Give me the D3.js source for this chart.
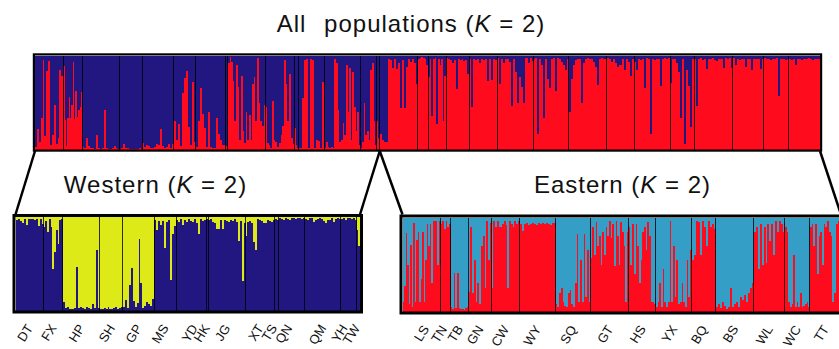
<!DOCTYPE html>
<html>
<head>
<meta charset="utf-8">
<script src="https://cdnjs.cloudflare.com/ajax/libs/d3/7.8.5/d3.min.js"></script>
<style>
body { margin: 0; background: #fff; }
text { font-family: "Liberation Sans", Arial, Helvetica, sans-serif; fill: #111; }
</style>
</head>
<body>
<svg class="chart"></svg>
<script>
// populations, in plot order
var westPops  = ["DT","FX","HP","SH","GP","MS","YD","HK","JG","XT","TS","QN","QM","YH","TW"];
var westSizes = [28,19,37,23,31,22,30,2,37,29,4,26,36,16,3];
var eastPops  = ["LS","TN","TB","GN","CW","WY","SQ","GT","HS","YX","BQ","BS","WL","WC","TT"];
var eastSizes = [38,10,18,23,28,36,35,38,27,36,24,38,31,25,31];

// all populations K=2 : red membership, west part
var topWestRed = [
  [0.03,0.22,0.08,0.33,0.95,0.14,0.83,0.94,0.05,0.15,0.47,0.06,0.12,0.85,0.78],
  [0.89,0.31,0.04,0.33,0.56,0.34,0.47,0.93,0.32,0.62,0.35,0.42,0.45,0.61],
  [0.03,0.02,0.12,0.04,0.02,0.02,0.01,0.15,0.02,0.01,0.02,0.42,0.02,0.01,0.01,0.02,0.04,0.02,0.01],
  [0.01,0.02,0.06,0.02,0.02,0.01,0.01,0.01,0.01,0.01,0.02,0.01],
  [0.07,0.03,0.05,0.04,0.02,0.02,0.03,0.06,0.05,0.22,0.04,0.02,0.03,0.06,0.02,0.06],
  [0.3,0.1,0.27,0.04,0.6,0.76,0.84,0.24,0.05,0.72,0.08],
  [0.03,0.3,0.65,0.38,0.23,0.03,0.4,0.03,0.02,0.02,0.33,0.17,0.1,0.05,0.05],
  [0.04],
  [0.92,0.98,0.93,0.73,0.3,0.9,0.67,0.1,0.78,0.2,0.07,0.4,0.1,0.37,0.1,0.7,0.77,0.3,0.97,0.5,0.3,0.25,0.47],
  [0.45,0.07,0.05,0.02,0.52,0.1,0.08,0.03,0.07,0.15,0.25,0.95,0.7,0.3,0.8,0.12,0.06],
  [0.23,0.23,0.05,0.02],
  [0.02,0.02,0.55,0.95,0.96,0.02,0.96,0.95,0.02,0.1,0.09,0.02,0.72],
  [0.02,0.08,0.03,0.02,0.03,0.02,0.96,0.92,0.42,0.08,0.1,0.28,0.15,0.9,0.4,0.87,0.1,0.82,0.45,0.2,0.4,0.05],
  [0.02,0.08,0.5,0.15,0.2,0.1,0.85,0.92,0.3,0.05],
  [0.3,0.12,0.05]
];
// all populations K=2 : red membership, east part
var topEastRed = [
  [0.17,0.1,0.08,0.08,0.96,0.95,0.87,0.96,0.86,0.92,0.44,0.95,0.44,0.88,0.96,0.93,0.96,0.92,0.7],
  [0.96,0.97,0.98,0.97,0.96,0.9],
  [0.77,0.96,0.36,0.96,0.97,0.27,0.96,0.9,0.96,0.3,0.78],
  [0.97,0.96,0.95,0.92,0.95,0.64,0.96,0.95,0.96,0.94,0.95,0.8],
  [0.96,0.45,0.96,0.95,0.96,0.92,0.96,0.95,0.96,0.73,0.96,0.74,0.96,0.95],
  [0.97,0.7,0.96,0.92,0.96,0.96,0.93,0.46,0.96,0.82,0.5,0.77,0.66,0.5,0.97,0.92,0.97,0.94],
  [0.96,0.97,0.17,0.96,0.9,0.33,0.96,0.75,0.65,0.96,0.97,0.62,0.97,0.96,0.93,0.9,0.85,0.96],
  [0.4,0.75,0.9,0.95,0.96,0.96,0.5,0.92,0.96,0.97,0.96,0.96,0.93,0.88,0.69,0.96,0.97,0.96,0.96],
  [0.97,0.96,0.93,0.96,0.92,0.88,0.9,0.96,0.85,0.96,0.93,0.78,0.96],
  [0.93,0.85,0.96,0.95,0.96,0.65,0.97,0.96,0.17,0.96,0.95,0.96,0.96,0.68,0.96,0.97,0.96,0.97],
  [0.71,0.96,0.96,0.92,0.82,0.33,0.96,0.06,0.85,0.68,0.24,0.96],
  [0.96,0.46,0.96,0.97,0.95,0.96,0.86,0.96,0.96,0.97,0.95,0.94,0.96,0.96,0.87,0.97,0.96,0.97,0.87],
  [0.97,0.9,0.96,0.95,0.96,0.96,0.88,0.96,0.96,0.85,0.96,0.96,0.96,0.86,0.96],
  [0.97,0.96,0.96,0.95,0.96,0.96,0.97,0.57,0.96,0.96,0.95,0.96],
  [0.96,0.95,0.96,0.9,0.96,0.96,0.95,0.96,0.96,0.97,0.96,0.95,0.96,0.96,0.96]
];
// western K=2 : yellow membership (drawn from the top)
var westYellow = [
  [0.03,0.02,0.04,0.06,0.02,0.09,0.02,0.02,0.02,0.03,0.02,0.1,0.02,0.07],
  [0.11,0.04,0.16,0.02,0.11,0.56,0.37,0.14,0.29,0.03,0.02],
  [0.91,0.97,0.96,0.98,0.98,0.98,0.97,0.53,0.97,0.96,0.97,0.98,0.96,0.97,0.98,0.93,0.97,0.35,0.97],
  [0.98,0.98,0.97,0.98,0.96,0.98,0.98,0.97,0.96,0.98,0.97,0.96],
  [0.96,0.89,0.97,0.73,0.55,0.9,0.96,0.92,0.23,0.71,0.97,0.95,0.91,0.93,0.95,0.88],
  [0.03,0.14,0.04,0.09,0.04,0.33,0.05,0.03,0.67,0.18,0.1],
  [0.03,0.05,0.02,0.09,0.03,0.05,0.02,0.04,0.05,0.02,0.06,0.18,0.02,0.04,0.03],
  [0.02],
  [0.03,0.02,0.05,0.06,0.13,0.13,0.03,0.13,0.03,0.04,0.05,0.03,0.04,0.02,0.05,0.26,0.04,0.68,0.06],
  [0.2,0.05,0.04,0.06,0.27,0.35,0.02,0.03,0.04,0.06,0.06,0.03,0.04,0.05,0.03],
  [0.02,0.03],
  [0.01,0.02,0.03,0.01,0.02,0.03,0.01,0.01,0.02,0.01,0.01,0.02,0.01],
  [0.02,0.03,0.01,0.01,0.05,0.03,0.02,0.01,0.02,0.04,0.06,0.03,0.03,0.01,0.05,0.02,0.01,0.02],
  [0.02,0.01,0.03,0.01,0.01,0.02,0.01,0.03],
  [0.14,0.31,0.31]
];
// eastern K=2 : red membership
var eastRed = [
  [0.1,0.27,0.83,0.5,0.08,0.71,0.05,0.94,0.1,0.76,0.85,0.1,0.35,0.85,0.1,0.55,0.93,0.7,0.93,0.3,0.96,0.96,0.96,0.5,0.96],
  [0.93,0.96,0.88,0.96,0.9,0.93],
  [0.05,0.03,0.41,0.04,0.41,0.04,0.03,0.03,0.02,0.04,0.05],
  [0.21,0.9,0.2,0.55,0.1,0.3,0.08,0.7,0.8,0.25,0.96,0.55,0.94],
  [0.25,0.96,0.9,0.96,0.9,0.9,0.93,0.96,0.92,0.25,0.96,0.93,0.9,0.96,0.93,0.96],
  [0.93,0.86,0.93,0.94,0.92,0.93,0.94,0.93,0.92,0.94,0.93,0.94,0.93,0.94,0.93,0.92,0.94,0.94],
  [0.08,0.05,0.2,0.25,0.1,0.06,0.05,0.2,0.23,0.08,0.05,0.3,0.82,0.1,0.55,0.1,0.82,0.15,0.65,0.1],
  [0.57,0.9,0.6,0.95,0.7,0.8,0.5,0.85,0.6,0.9,0.8,0.96,0.78,0.93,0.48,0.96,0.8,0.5,0.95,0.85,0.7,0.1,0.85],
  [0.9,0.5,0.93,0.4,0.93,0.7,0.3,0.55,0.85,0.9,0.65,0.95,0.8,0.1,0.1,0.08],
  [0.05,0.1,0.3,0.05,0.45,0.1,0.05,0.1,0.96,0.1,0.7,0.15,0.55,0.08,0.1,0.3,0.1,0.05,0.55,0.15,0.65],
  [0.55,0.6,0.96,0.95,0.6,0.96,0.9,0.7,0.96,0.9,0.93,0.88],
  [0.05,0.08,0.04,0.1,0.06,0.03,0.05,0.25,0.05,0.08,0.1,0.05,0.15,0.12,0.18,0.1,0.2,0.25,0.3],
  [0.85,0.9,0.45,0.93,0.5,0.9,0.52,0.93,0.75,0.93,0.6,0.96,0.85,0.96,0.93,0.85],
  [0.9,0.85,0.1,0.05,0.08,0.6,0.05,0.1,0.05,0.2,0.05,0.06,0.08,0.1,0.05],
  [0.9,0.93,0.7,0.93,0.4,0.8,0.85,0.5,0.93,0.9,0.96,0.85,0.8,0.1,0.2,0.93,0.96,0.9]
];

var NAVY = "#221680", RED = "#fe0c1e", YELLOW = "#dee918", TEAL = "#349ec6";

var svg = d3.select(".chart").attr("width", 839).attr("height", 349);

function drawPanel(sizes, values, o) {
  var total = d3.sum(sizes);
  var x = d3.scaleLinear().domain([0, total]).range([o.x0, o.x1]);
  var y = d3.scaleLinear().domain([0, 1]).range([o.y1, o.y0]);
  var g = svg.append("g");

  // individuals
  var bars = [], cum = 0, edges = [];
  sizes.forEach(function(n, i) {
    var v = values[i], m = v.length;
    v.forEach(function(q, j) {
      bars.push({a: cum + j * n / m, b: cum + (j + 1) * n / m, q: q});
    });
    cum += n;
    edges.push(cum);
  });

  g.append("rect")
    .attr("x", o.x0).attr("y", o.y0)
    .attr("width", o.x1 - o.x0).attr("height", o.y1 - o.y0)
    .attr("fill", o.bg).attr("shape-rendering", "crispEdges");

  g.selectAll("rect.bar").data(bars).enter().append("rect")
    .attr("class", "bar")
    .attr("x", function(d) { return x(d.a); })
    .attr("width", function(d) { return x(d.b) - x(d.a); })
    .attr("y", function(d) { return o.fromTop ? y(1) : y(d.q); })
    .attr("height", function(d) { return o.fromTop ? y(1 - d.q) - y(1) : y(0) - y(d.q); })
    .attr("fill", o.fg)
    .attr("shape-rendering", "crispEdges");

  g.selectAll("line.div").data(edges.slice(0, -1)).enter().append("line")
    .attr("class", "div")
    .attr("x1", function(d) { return x(d); }).attr("x2", function(d) { return x(d); })
    .attr("y1", o.y0).attr("y2", o.y1)
    .attr("stroke", "#000").attr("stroke-opacity", 0.8).attr("stroke-width", 1)
    .attr("shape-rendering", "crispEdges");

  g.append("rect")
    .attr("x", o.x0 - o.bw / 2).attr("y", o.y0 - o.bw / 2)
    .attr("width", o.x1 - o.x0 + o.bw).attr("height", o.y1 - o.y0 + o.bw)
    .attr("fill", "none").attr("stroke", "#000").attr("stroke-width", o.bw);

  return {x: x, edges: edges};
}

function drawLabels(names, sizes, x, nudge, ly) {
  var cum = 0;
  names.forEach(function(nm, i) {
    var c = cum + sizes[i] / 2;
    cum += sizes[i];
    var ax = x(c) + 4 + (nudge[nm] || 0);
    svg.append("text")
      .attr("transform", "translate(" + ax + "," + ly + ") rotate(-58)")
      .attr("text-anchor", "end")
      .style("font-size", "13px")
      .text(nm);
  });
}

function kTitle(cx, cy) {
  return svg.append("text")
    .attr("x", cx).attr("y", cy)
    .attr("text-anchor", "middle")
    .style("font-size", "24px")
    .style("letter-spacing", "1px");
}

// top panel: all populations
var allPanel = drawPanel(westSizes.concat(eastSizes), topWestRed.concat(topEastRed),
  {x0: 35, x1: 820, y0: 55.5, y1: 149.5, bw: 2.2, bg: NAVY, fg: RED, fromTop: false});

// western
var westPanel = drawPanel(westSizes, westYellow,
  {x0: 15.5, x1: 360, y0: 217, y1: 310.5, bw: 3, bg: NAVY, fg: YELLOW, fromTop: true});

// eastern
var eastPanel = drawPanel(eastSizes, eastRed,
  {x0: 402.5, x1: 841, y0: 217.5, y1: 311.5, bw: 3, bg: TEAL, fg: RED, fromTop: false});

// zoom-out lines joining the panels
var nW = d3.sum(westSizes), nE = d3.sum(eastSizes);
var links = [
  [allPanel.x(0), westPanel.x(0)],
  [allPanel.x(nW), westPanel.x(nW)],
  [allPanel.x(nW), eastPanel.x(0)],
  [allPanel.x(nW + nE), eastPanel.x(nE)]
];
svg.selectAll("line.link").data(links).enter().append("line")
  .attr("x1", function(d) { return d[0]; }).attr("y1", 151)
  .attr("x2", function(d) { return d[1]; }).attr("y2", 214.5)
  .attr("stroke", "#000").attr("stroke-width", 2.5);

// titles
var t1 = kTitle(411, 32);
t1.append("tspan").text("All");
t1.append("tspan").attr("dx", 10).text(" populations (");
t1.append("tspan").style("font-style", "italic").text("K");
t1.append("tspan").text(" = 2)");

var t2 = kTitle(155.5, 193.3);
t2.append("tspan").text("Western (");
t2.append("tspan").style("font-style", "italic").text("K");
t2.append("tspan").text(" = 2)");

var t3 = kTitle(622.5, 193.3);
t3.append("tspan").text("Eastern (");
t3.append("tspan").style("font-style", "italic").text("K");
t3.append("tspan").text(" = 2)");

// population labels
drawLabels(westPops, westSizes, westPanel.x, {YD: 3, HK: -1, TS: -3, QN: -3, YH: -5, TW: -2}, 328);
drawLabels(eastPops, eastSizes, eastPanel.x, {LS: 4, TN: -2}, 329);
</script>
</body>
</html>
